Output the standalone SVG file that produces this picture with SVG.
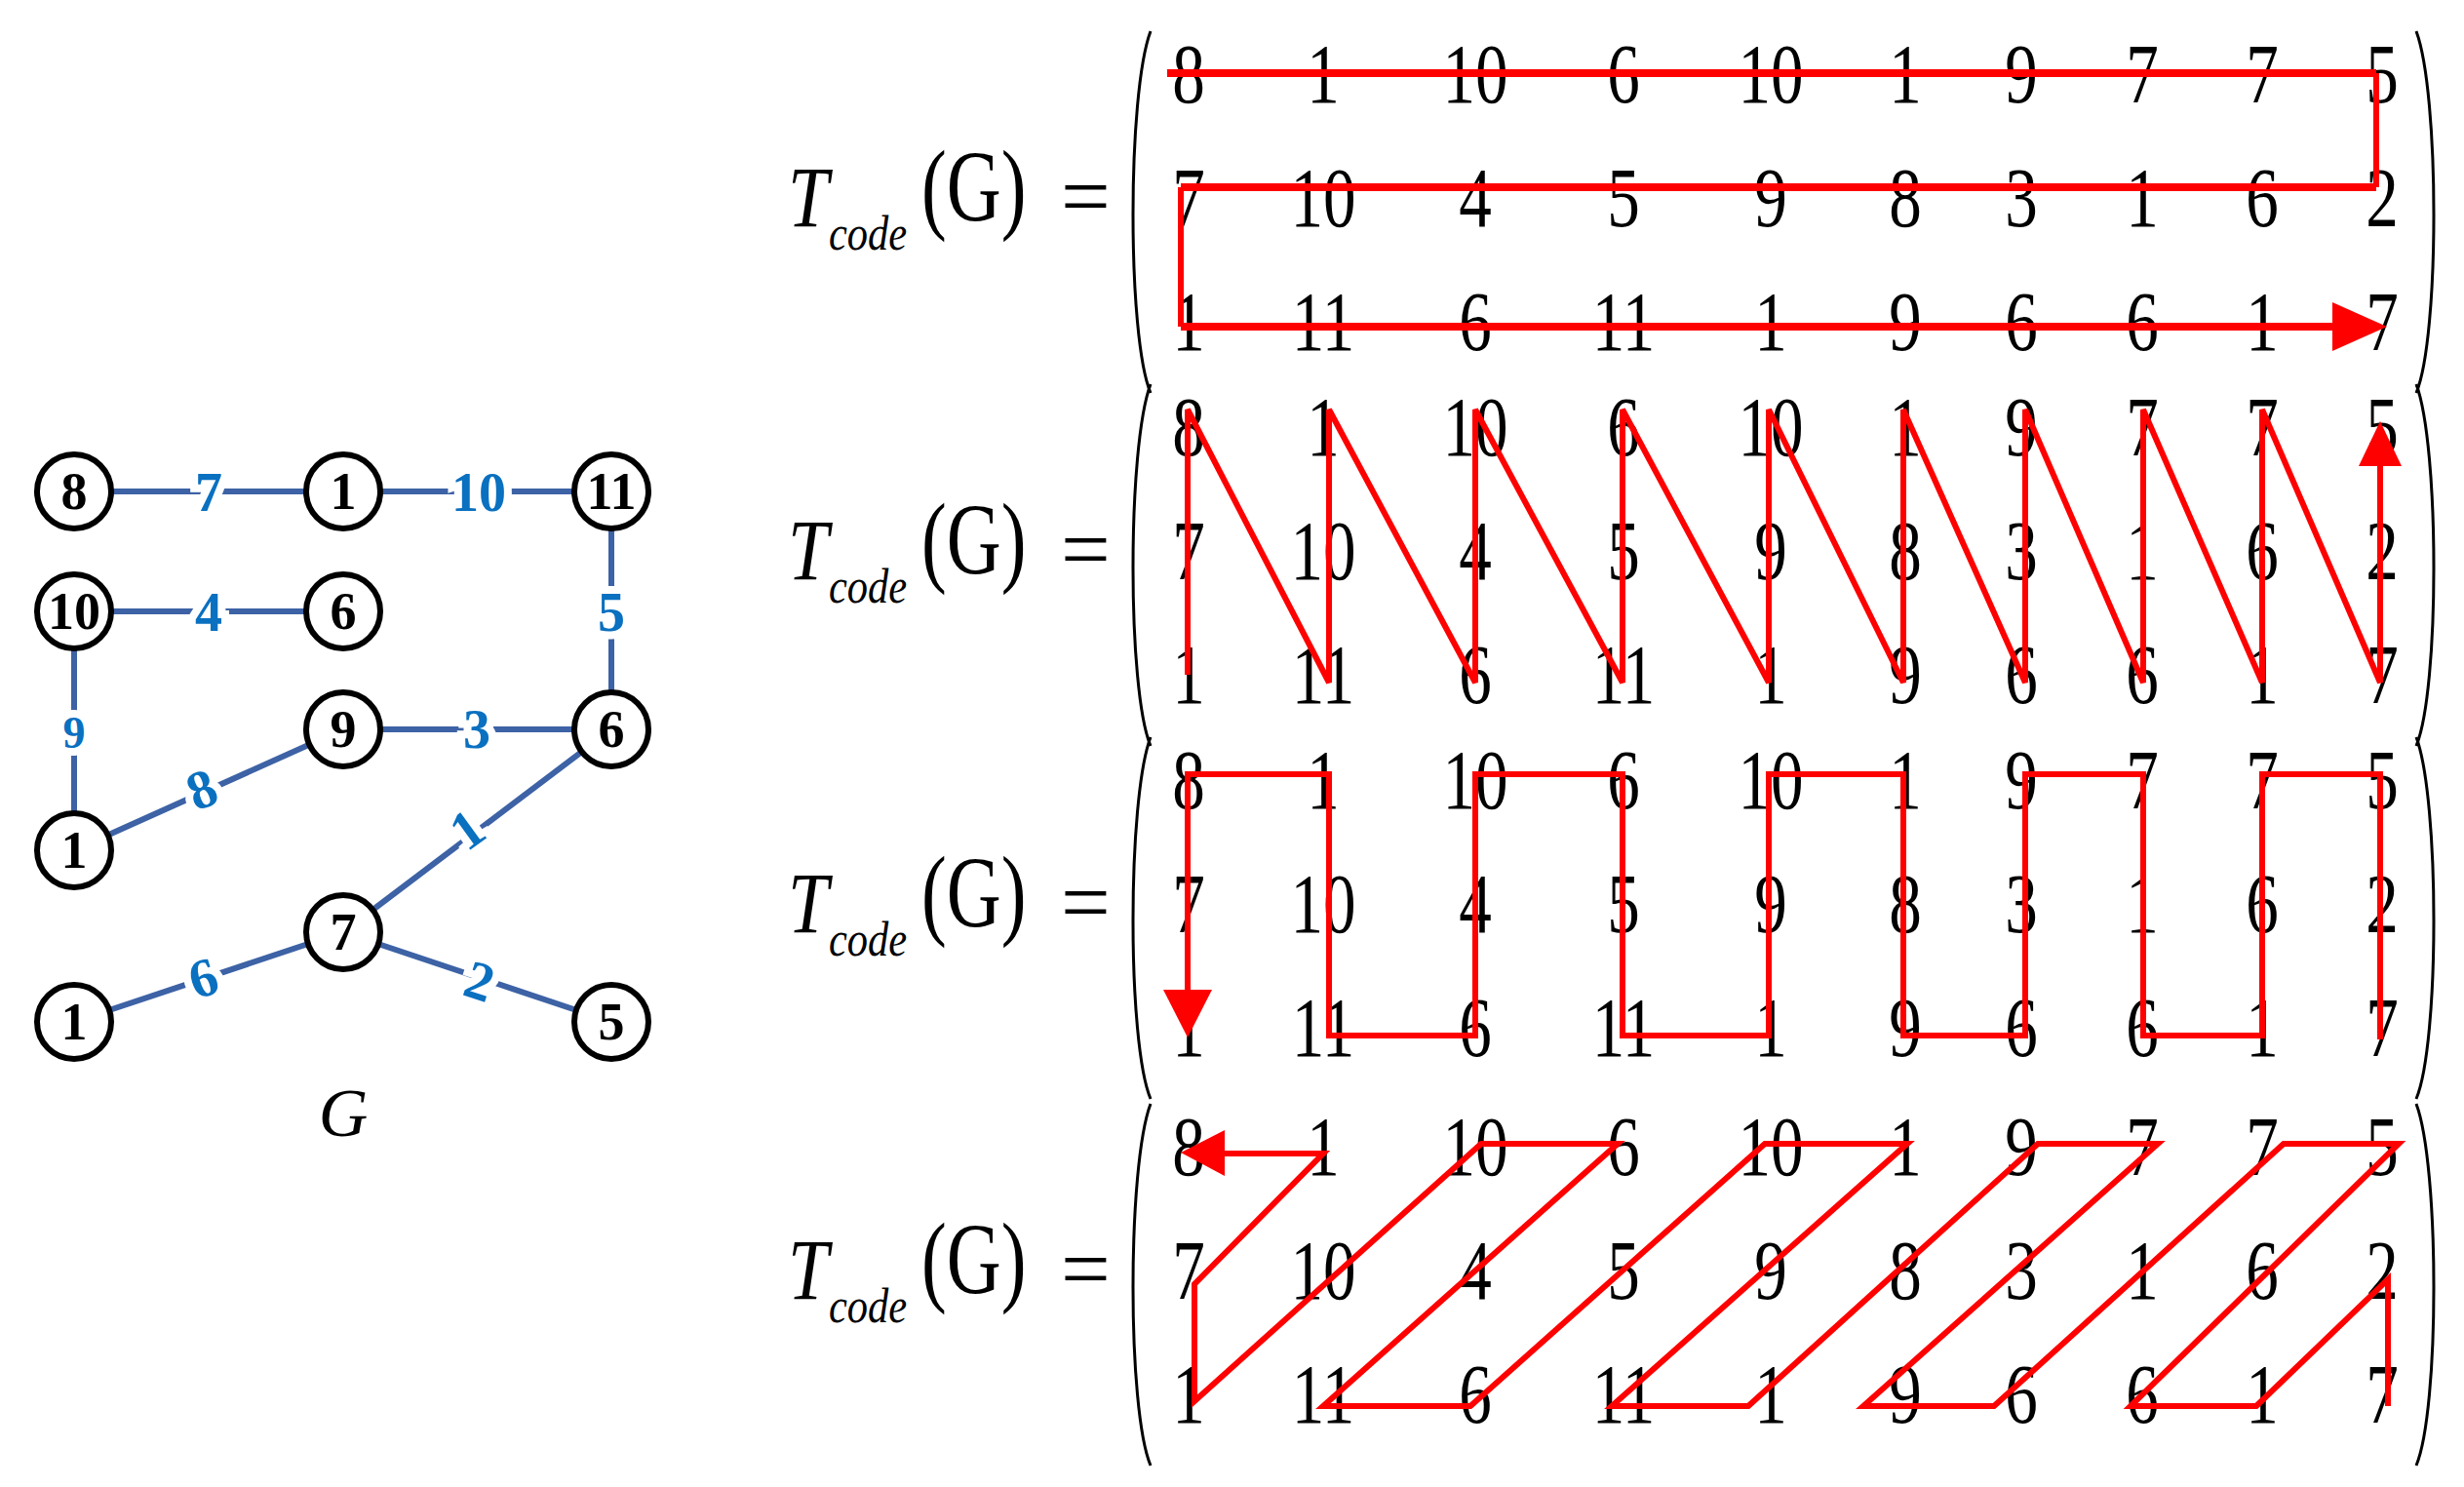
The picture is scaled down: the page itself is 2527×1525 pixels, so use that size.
<svg xmlns="http://www.w3.org/2000/svg" width="2527" height="1525" viewBox="0 0 2527 1525">
<style>
.e{stroke:#3d62a5;stroke-width:6;fill:none}
.n circle{fill:#fff;stroke:#000;stroke-width:6}
.n text{font-family:"Liberation Serif","Times New Roman",serif;font-weight:bold;font-size:54px;text-anchor:middle}
.l{font-family:"Liberation Serif","Times New Roman",serif;font-weight:bold;font-size:56px;fill:#0a70c0;text-anchor:middle;stroke:#fff;stroke-width:16px;paint-order:stroke}
.m{font-family:"Liberation Serif","Times New Roman",serif;font-size:86px;text-anchor:middle}
.it{font-family:"Liberation Serif","Times New Roman",serif;font-style:italic}
.rm{font-family:"Liberation Serif","Times New Roman",serif}
.p{fill:none;stroke:#000;stroke-width:3}
.r{fill:none;stroke:#f00;stroke-width:6;stroke-linejoin:miter}
.h{fill:none;stroke:#f00;stroke-width:8}
.a{fill:#f00}
</style>
<g id="edges">
<line class="e" x1="76" y1="504" x2="627" y2="504"/>
<line class="e" x1="76" y1="627" x2="352" y2="627"/>
<line class="e" x1="627" y1="504" x2="627" y2="748"/>
<line class="e" x1="76" y1="627" x2="76" y2="872"/>
<line class="e" x1="352" y1="748" x2="627" y2="748"/>
<line class="e" x1="76" y1="872" x2="352" y2="748"/>
<line class="e" x1="627" y1="748" x2="352" y2="956"/>
<line class="e" x1="76" y1="1048" x2="352" y2="956"/>
<line class="e" x1="352" y1="956" x2="627" y2="1048"/>
<text class="l" x="214" y="524">7</text>
<text class="l" x="491" y="524">10</text>
<text class="l" x="214" y="647">4</text>
<text class="l" x="627" y="647">5</text>
<text class="l" x="76" y="767" style="font-size:46px">9</text>
<text class="l" x="489" y="767">3</text>
<text class="l" transform="translate(214,827) rotate(-22)">8</text>
<text class="l" transform="translate(490,866) rotate(-36)">1</text>
<text class="l" transform="translate(214,1021) rotate(-17)">6</text>
<text class="l" transform="translate(486,1024) rotate(18)">2</text>
</g>
<g id="n1" class="n"><circle cx="76" cy="504" r="38"/><text x="76" y="522">8</text></g>
<g id="n2" class="n"><circle cx="352" cy="504" r="38"/><text x="352" y="522">1</text></g>
<g id="n3" class="n"><circle cx="627" cy="504" r="38"/><text x="627" y="522">11</text></g>
<g id="n4" class="n"><circle cx="76" cy="627" r="38"/><text x="76" y="645">10</text></g>
<g id="n5" class="n"><circle cx="352" cy="627" r="38"/><text x="352" y="645">6</text></g>
<g id="n6" class="n"><circle cx="352" cy="748" r="38"/><text x="352" y="766">9</text></g>
<g id="n7" class="n"><circle cx="627" cy="748" r="38"/><text x="627" y="766">6</text></g>
<g id="n8" class="n"><circle cx="76" cy="872" r="38"/><text x="76" y="890">1</text></g>
<g id="n9" class="n"><circle cx="352" cy="956" r="38"/><text x="352" y="974">7</text></g>
<g id="n10" class="n"><circle cx="76" cy="1048" r="38"/><text x="76" y="1066">1</text></g>
<g id="n11" class="n"><circle cx="627" cy="1048" r="38"/><text x="627" y="1066">5</text></g>
<text class="it" x="352" y="1165" font-size="70" text-anchor="middle">G</text>

<defs>
<g id="mat">
<g class="m">
<text transform="translate(1219,29) scale(0.78,1)">8</text><text transform="translate(1357,29) scale(0.78,1)">1</text><text transform="translate(1513,29) scale(0.78,1)">10</text><text transform="translate(1665,29) scale(0.78,1)">6</text><text transform="translate(1816,29) scale(0.78,1)">10</text><text transform="translate(1954,29) scale(0.78,1)">1</text><text transform="translate(2073,29) scale(0.78,1)">9</text><text transform="translate(2197,29) scale(0.78,1)">7</text><text transform="translate(2320,29) scale(0.78,1)">7</text><text transform="translate(2443,29) scale(0.78,1)">5</text>
<text transform="translate(1219,156) scale(0.78,1)">7</text><text transform="translate(1357,156) scale(0.78,1)">10</text><text transform="translate(1513,156) scale(0.78,1)">4</text><text transform="translate(1665,156) scale(0.78,1)">5</text><text transform="translate(1816,156) scale(0.78,1)">9</text><text transform="translate(1954,156) scale(0.78,1)">8</text><text transform="translate(2073,156) scale(0.78,1)">3</text><text transform="translate(2197,156) scale(0.78,1)">1</text><text transform="translate(2320,156) scale(0.78,1)">6</text><text transform="translate(2443,156) scale(0.78,1)">2</text>
<text transform="translate(1219,283) scale(0.78,1)">1</text><text transform="translate(1357,283) scale(0.78,1)">11</text><text transform="translate(1513,283) scale(0.78,1)">6</text><text transform="translate(1665,283) scale(0.78,1)">11</text><text transform="translate(1816,283) scale(0.78,1)">1</text><text transform="translate(1954,283) scale(0.78,1)">9</text><text transform="translate(2073,283) scale(0.78,1)">6</text><text transform="translate(2197,283) scale(0.78,1)">6</text><text transform="translate(2320,283) scale(0.78,1)">1</text><text transform="translate(2443,283) scale(0.78,1)">7</text>
</g>
<path class="p" d="M1180,-44 C1156,20 1156,270 1180,327"/>
<path class="p" d="M2478,-44 C2502,20 2502,270 2478,327"/>
<text class="it" transform="translate(808,156) scale(0.85,1)" font-size="88">T</text>
<text class="it" transform="translate(850,180) scale(0.85,1)" font-size="50">code</text>
<text class="rm" transform="translate(945,150) scale(0.9,1.2)" font-size="86">(G)</text>
<text class="rm" x="1088" y="156" font-size="90">=</text>
</g>
</defs>
<use href="#mat" transform="translate(0,76)"/>
<use href="#mat" transform="translate(0,438)"/>
<use href="#mat" transform="translate(0,800)"/>
<use href="#mat" transform="translate(0,1176)"/>

<g id="paths">
<path class="h" d="M1197,75 H2437 M2437,192 H1211 M1211,335 H2395"/>
<path class="r" d="M2437,75 V192 M1211,192 V335"/>
<polygon class="a" points="2392,310 2448,335 2392,360"/>
<path class="r" d="M1218,692 V420 L1363,700 V420 L1513,700 V420 L1664,700 V420 L1814,700 V420 L1952,700 V420 L2077,700 V420 L2198,700 V420 L2320,700 V420 L2441,700 V478"/>
<polygon class="a" points="2419,478 2441,432 2463,478"/>
<path class="r" d="M2441,1066 V794 H2320 V1062 H2198 V794 H2077 V1062 H1952 V794 H1814 V1062 H1664 V794 H1513 V1062 H1363 V794 H1218 V1015"/>
<polygon class="a" points="1193,1015 1218,1064 1243,1015"/>
<path class="r" d="M2449,1442 V1312 L2314,1442 H2185 L2460,1173 H2342 L2045,1442 H1911 L2213,1173 H2090 L1793,1442 H1653 L1956,1173 H1810 L1508,1442 H1357 L1659,1173 H1519 L1225,1437 V1317 L1357,1183 H1254"/>
<polygon class="a" points="1256,1159 1211,1182 1256,1206"/>
</g>
</svg>
